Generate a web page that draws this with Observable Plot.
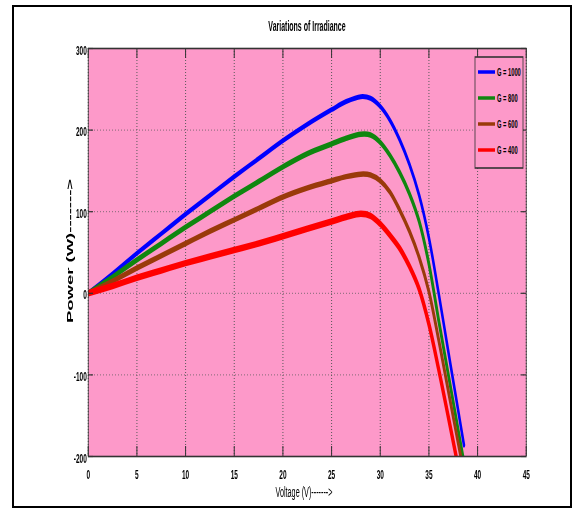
<!DOCTYPE html>
<html>
<head>
<meta charset="utf-8">
<script src="https://cdn.jsdelivr.net/npm/d3@7"></script>
<script src="https://cdn.jsdelivr.net/npm/@observablehq/plot@0.6"></script>
<style>
html, body { margin: 0; padding: 0; overflow: hidden; background: #fff; }
#wrap { position: relative; width: 580px; height: 512px; overflow: hidden; background: #fff; }
#stage { position: absolute; left: 0; top: 0; width: 1160px; height: 512px; transform: scaleX(0.5); transform-origin: 0 0; }
#border { position: absolute; left: 12px; top: 5px; width: 556px; height: 499px; border: 2px solid #000; pointer-events: none; }
</style>
</head>
<body>
<div id="wrap"><div id="stage"></div><div id="border"></div></div>
<script>
// ---- data ----
const titleText = "Variations of Irradiance";
const xLabel = "Voltage (V)------->";
const yLabel = "Power (W)------->";
const xTicks = [0, 5, 10, 15, 20, 25, 30, 35, 40, 45];
const yTicks = [-200, -100, 0, 100, 200, 300];

const seriesNames = ["G = 1000", "G = 800", "G = 600", "G = 400"];
const seriesColors = ["#0000ff", "#0f870f", "#9a3a0a", "#ff0000"];

const voltage = [0, 2.5, 5, 7.5, 10, 12.5, 15, 17.5, 20, 22.5, 25, 26.5, 28, 29, 30, 31, 32, 33, 34, 35, 36, 37, 38, 38.6];
const powerG1000 = [0, 24, 49, 73, 97, 120, 143, 165, 187, 207, 225, 235, 241, 239, 229, 212, 188, 158, 120, 68, 0, -72, -143, -186];
const powerG800  = [0, 20, 41, 61, 81, 100, 119, 137, 155, 171, 183, 190, 195, 194, 185, 169, 148, 122, 88, 36, -33, -100, -167, -207];
const powerG600  = [0, 15, 31, 46, 61, 76, 90, 104, 118, 129, 138, 143, 146, 145, 138, 124, 102, 76, 44, 2, -57, -120, -183, -220];
const powerG400  = [0, 9, 19, 28, 37, 45, 53, 61, 70, 79, 88, 93.5, 97.5, 95, 85, 71, 55, 33, 5, -38, -93, -152, -212, -247];
const powerSeries = [powerG1000, powerG800, powerG600, powerG400];

// ---- styling ----
const PINK = "#fd99c9";
const lineWidths = [5, 5.5, 5.5, 6.5];
const W = 1160, H = 512;
const mL = 176, mR = 108, mT = 48, mB = 56;
const innerW = W - mL - mR, innerH = H - mT - mB;

const lineMarks = powerSeries.map((ps, i) =>
  Plot.line(voltage.map((v, j) => ({V: v, P: ps[j]})), {
    x: "V", y: "P", stroke: seriesColors[i], strokeWidth: lineWidths[i],
    curve: "catmull-rom", clip: true
  })
);

const chart = Plot.plot({
  width: W, height: H,
  marginLeft: mL, marginRight: mR, marginTop: mT, marginBottom: mB,
  x: {domain: [0, 45]},
  y: {domain: [-200, 300]},
  style: {background: "transparent", fontFamily: "'Liberation Sans', Arial, sans-serif", color: "#000"},
  marks: [
    Plot.frame({fill: PINK, stroke: "none"}),
    Plot.gridX(xTicks, {stroke: "#5a5a5a", strokeOpacity: 1, strokeWidth: 2, strokeDasharray: "1,2"}),
    Plot.gridY(yTicks, {stroke: "#5a5a5a", strokeOpacity: 1, strokeWidth: 1, strokeDasharray: "2,4"}),
    ...lineMarks,
    Plot.tickX(xTicks, {x: d => d, insetTop: innerH - 10, stroke: "#333", strokeWidth: 2}),
    Plot.tickX(xTicks, {x: d => d, insetBottom: innerH - 10, stroke: "#333", strokeWidth: 2}),
    Plot.tickY(yTicks, {y: d => d, insetRight: innerW - 10, stroke: "#333", strokeWidth: 1.2}),
    Plot.tickY(yTicks, {y: d => d, insetLeft: innerW - 10, stroke: "#333", strokeWidth: 1.2}),
    Plot.frame({stroke: "#333", strokeWidth: 1.6}),
    Plot.axisX(xTicks, {tickSize: 0, tickPadding: 13, fontSize: 13, fontWeight: "bold", tickFormat: d => String(d), label: null}),
    Plot.axisY(yTicks, {tickSize: 0, tickPadding: 3, fontSize: 13, fontWeight: "bold", tickFormat: d => String(d), label: null, dy: 2})
  ]
});

const svg = d3.select(chart);
svg.append("text")
  .attr("x", 614).attr("y", 31).attr("text-anchor", "middle")
  .attr("font-size", 14).attr("font-weight", "bold").attr("fill", "#000")
  .text(titleText);
svg.append("text")
  .attr("x", 608).attr("y", 497).attr("text-anchor", "middle")
  .attr("font-size", 14.5).attr("fill", "#000")
  .text(xLabel);
svg.append("text")
  .attr("transform", "translate(146,251) rotate(-90)").attr("text-anchor", "middle")
  .attr("font-size", 18.5).attr("font-weight", "bold").attr("fill", "#000")
  .text(yLabel);

// legend
const lg = svg.append("g");
lg.append("rect").attr("x", 950).attr("y", 57).attr("width", 96).attr("height", 111)
  .attr("fill", PINK).attr("stroke", "#333").attr("stroke-width", 1.6);
seriesNames.forEach((name, i) => {
  const y = 72 + i * 26;
  lg.append("line").attr("x1", 956).attr("x2", 990).attr("y1", y).attr("y2", y)
    .attr("stroke", seriesColors[i]).attr("stroke-width", 3.5);
  lg.append("text").attr("x", 994).attr("y", y + 4).attr("text-anchor", "start")
    .attr("font-size", 11.5).attr("font-weight", "bold").attr("fill", "#000").text(name);
});

document.getElementById("stage").appendChild(chart);
</script>
</body>
</html>
